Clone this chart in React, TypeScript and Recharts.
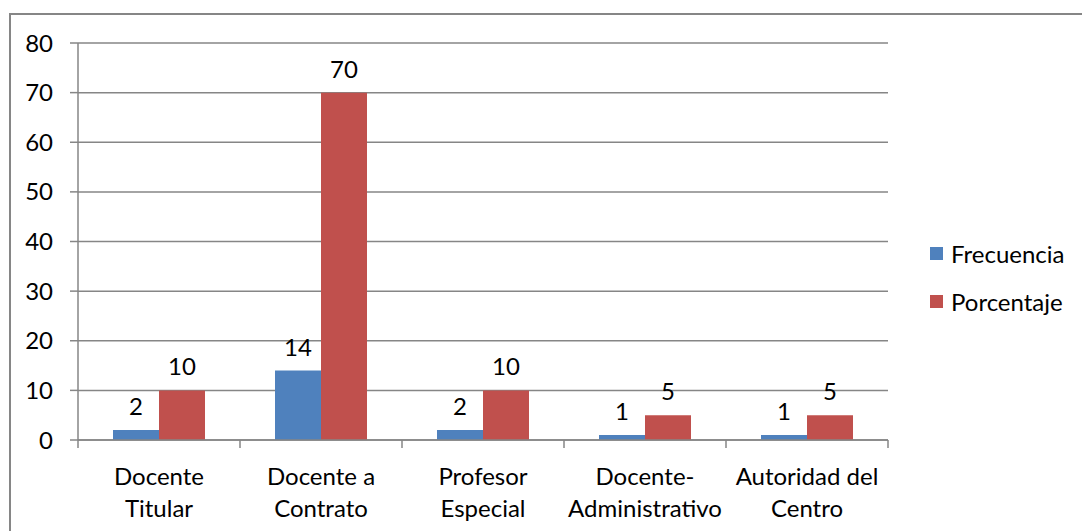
import React from "react";
import { BarChart, Bar, XAxis, YAxis, CartesianGrid, LabelList } from "recharts";

const categories = [
  "Docente\nTitular",
  "Docente a\nContrato",
  "Profesor\nEspecial",
  "Docente-\nAdministrativo",
  "Autoridad del\nCentro",
];
const frecuencia = [2, 14, 2, 1, 1];
const porcentaje = [10, 70, 10, 5, 5];
const yTicks = [0, 10, 20, 30, 40, 50, 60, 70, 80];

const seriesNames = ["Frecuencia", "Porcentaje"];
const colors = ["#4F81BD", "#C0504D"];

const W = 1082;
const H = 531;
const FONT = "Lato, 'Open Sans', sans-serif";
const FONT_SIZE = 24;
const GRID = "#868686";
const Y_AXIS_W = 78;
const MARGIN = { top: 43, right: 194, left: 0, bottom: 0 };
const X_AXIS_H = 91;
const BAND = (W - MARGIN.right - Y_AXIS_W) / categories.length;

const chartData = categories.map((name, i) => ({
  name,
  Frecuencia: frecuencia[i],
  Porcentaje: porcentaje[i],
}));

// category labels centred under each group, tick marks on the group boundaries
const CategoryTick = (props: any) => {
  const { x, y, payload, index } = props;
  const lines = String(payload.value).split("\n");
  const left = x - BAND / 2;
  const right = x + BAND / 2;
  return (
    <g>
      <line x1={left} y1={y} x2={left} y2={y + 8} stroke={GRID} strokeWidth={1.5} />
      {index === categories.length - 1 && (
        <line x1={right} y1={y} x2={right} y2={y + 8} stroke={GRID} strokeWidth={1.5} />
      )}
      {lines.map((line, i) => (
        <text
          key={i}
          x={x}
          y={y + 45 + i * 32}
          textAnchor="middle"
          fill="#000"
          fontSize={FONT_SIZE}
          fontFamily={FONT}
        >
          {line}
        </text>
      ))}
    </g>
  );
};

const LegendBox = () => (
  <div
    style={{
      position: "absolute",
      left: 930,
      top: 229,
      fontFamily: FONT,
      fontSize: FONT_SIZE,
      color: "#000",
    }}
  >
    {seriesNames.map((name, i) => (
      <div key={name} style={{ display: "flex", alignItems: "center", height: 48 }}>
        <span
          style={{
            display: "inline-block",
            width: 13,
            height: 13,
            background: colors[i],
            marginRight: 8,
          }}
        />
        <span>{name}</span>
      </div>
    ))}
  </div>
);

const App: React.FC = () => {
  return (
    <div style={{ position: "absolute", left: 0, top: 0, width: W, height: H, background: "#fff", overflow: "hidden" }}>
      <div
        style={{
          position: "absolute",
          left: 9,
          top: 13,
          width: W,
          height: H,
          borderTop: "2px solid #868686",
          borderLeft: "2px solid #868686",
        }}
      />
      <div style={{ position: "absolute", left: 0, top: 0 }}>
        <BarChart width={W} height={H} data={chartData} margin={MARGIN} barGap={0} barSize={46}>
          <CartesianGrid vertical={false} stroke={GRID} strokeWidth={1.5} />
          <XAxis
            dataKey="name"
            height={X_AXIS_H}
            interval={0}
            tickSize={0}
            tickMargin={0}
            tickLine={false}
            axisLine={{ stroke: GRID, strokeWidth: 1.5 }}
            tick={<CategoryTick />}
          />
          <YAxis
            width={Y_AXIS_W}
            domain={[0, 80]}
            ticks={yTicks}
            interval={0}
            tickSize={8}
            tickMargin={17}
            tickLine={{ stroke: GRID, strokeWidth: 1.5 }}
            axisLine={{ stroke: GRID, strokeWidth: 1.5 }}
            tick={{ fill: "#000", fontSize: FONT_SIZE, fontFamily: FONT }}
          />
          {seriesNames.map((name, i) => (
            <Bar key={name} dataKey={name} fill={colors[i]} isAnimationActive={false}>
              <LabelList
                dataKey={name}
                position="top"
                offset={15}
                fill="#000"
                fontSize={FONT_SIZE}
                fontFamily={FONT}
              />
            </Bar>
          ))}
        </BarChart>
      </div>
      <LegendBox />
    </div>
  );
};

export default App;
